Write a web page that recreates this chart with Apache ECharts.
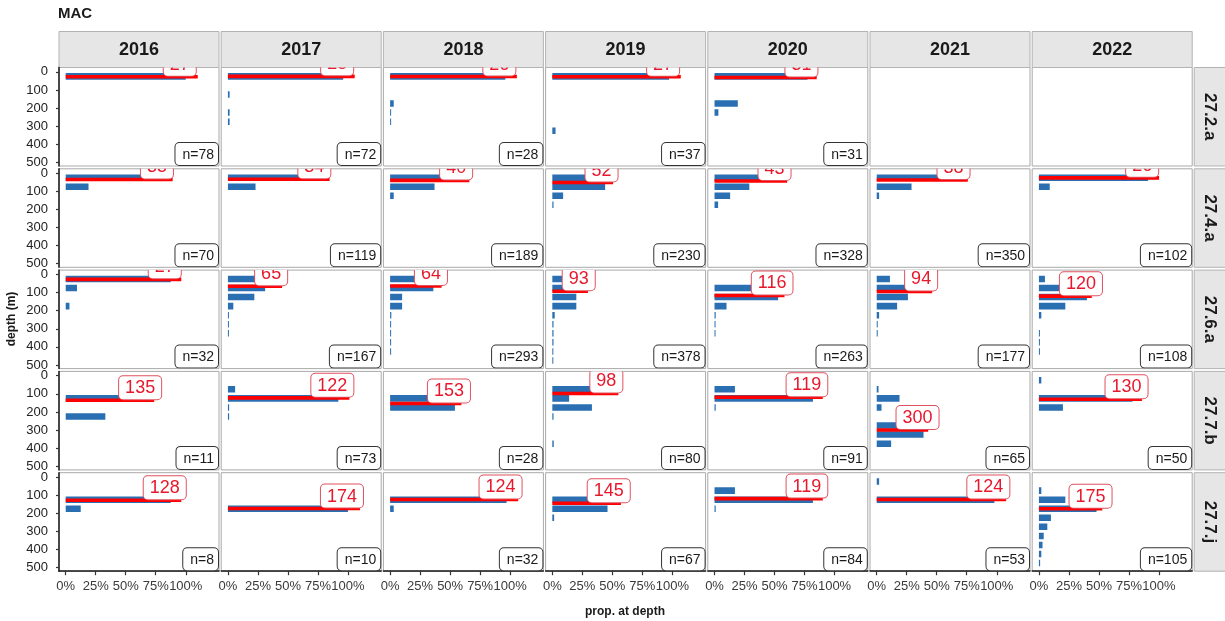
<!DOCTYPE html>
<html>
<head>
<meta charset="utf-8">
<script src="https://cdn.jsdelivr.net/npm/echarts@6/dist/echarts.min.js"></script>
<style>
  html, body { margin: 0; padding: 0; background: #fff; }
  #chart { width: 1225px; height: 621px; }
</style>
</head>
<body>
<div id="chart"></div>
<script>
// facets
const years = ['2016', '2017', '2018', '2019', '2020', '2021', '2022'];
const areas = ['27.2.a', '27.4.a', '27.6.a', '27.7.b', '27.7.j'];

// depth bins (m), 50 m wide, start of each bin
const binStarts = [0, 50, 100, 150, 200, 250, 300, 350, 400, 450];
const binWidth = 50;

const yTicks = [0, 100, 200, 300, 400, 500];
const xTicks = [0, 0.25, 0.5, 0.75, 1];

// proportion of hauls per depth bin, one row per year (null = no data)
const prop_27_2_a = [
  [1.00, 0, 0, 0, 0, 0, 0, 0, 0, 0],
  [0.96, 0, 0.014, 0, 0.014, 0.014, 0, 0, 0, 0],
  [0.96, 0, 0, 0.03, 0.005, 0.005, 0, 0, 0, 0],
  [0.973, 0, 0, 0, 0, 0, 0.027, 0, 0, 0],
  [0.774, 0, 0, 0.194, 0.032, 0, 0, 0, 0, 0],
  null,
  null
];
const prop_27_4_a = [
  [0.81, 0.19, 0, 0, 0, 0, 0, 0, 0, 0],
  [0.77, 0.23, 0, 0, 0, 0, 0, 0, 0, 0],
  [0.60, 0.37, 0.03, 0, 0, 0, 0, 0, 0, 0],
  [0.46, 0.44, 0.09, 0.01, 0, 0, 0, 0, 0, 0],
  [0.55, 0.29, 0.13, 0.03, 0, 0, 0, 0, 0, 0],
  [0.69, 0.29, 0.02, 0, 0, 0, 0, 0, 0, 0],
  [0.91, 0.09, 0, 0, 0, 0, 0, 0, 0, 0]
];
const prop_27_6_a = [
  [0.875, 0.094, 0, 0.031, 0, 0, 0, 0, 0, 0],
  [0.41, 0.31, 0.22, 0.045, 0.005, 0.005, 0.005, 0, 0, 0],
  [0.39, 0.36, 0.10, 0.10, 0.01, 0.005, 0.005, 0.005, 0.005, 0],
  [0.27, 0.22, 0.20, 0.20, 0.02, 0.01, 0.01, 0.01, 0.005, 0.005],
  [0, 0.32, 0.53, 0.10, 0.01, 0.005, 0.005, 0, 0, 0],
  [0.11, 0.42, 0.26, 0.17, 0.02, 0.005, 0.005, 0, 0, 0],
  [0.05, 0.28, 0.40, 0.22, 0.02, 0, 0.005, 0.005, 0.005, 0]
];
const prop_27_7_b = [
  [0, 0, 0.67, 0, 0.33, 0, 0, 0, 0, 0],
  [0, 0.06, 0.92, 0.01, 0.01, 0, 0, 0, 0, 0],
  [0, 0, 0.46, 0.54, 0, 0, 0, 0, 0, 0],
  [0, 0.50, 0.14, 0.33, 0.01, 0, 0, 0.012, 0, 0],
  [0, 0.17, 0.82, 0.01, 0, 0, 0, 0, 0, 0],
  [0, 0.015, 0.19, 0.04, 0, 0.25, 0.39, 0.12, 0, 0],
  [0.02, 0, 0.78, 0.20, 0, 0, 0, 0, 0, 0]
];
const prop_27_7_j = [
  [0, 0, 0.875, 0.125, 0, 0, 0, 0, 0, 0],
  [0, 0, 0, 1.00, 0, 0, 0, 0, 0, 0],
  [0, 0, 0.97, 0.03, 0, 0, 0, 0, 0, 0],
  [0, 0, 0.52, 0.46, 0.015, 0, 0, 0, 0, 0],
  [0, 0.17, 0.82, 0.01, 0, 0, 0, 0, 0, 0],
  [0.02, 0, 0.98, 0, 0, 0, 0, 0, 0, 0],
  [0, 0.02, 0.22, 0.48, 0.10, 0.07, 0.04, 0.03, 0.02, 0.01]
];
const propByArea = [prop_27_2_a, prop_27_4_a, prop_27_6_a, prop_27_7_b, prop_27_7_j];

// mean depth (m) per area x year
const meanDepth = [
  [27, 25, 26, 27, 31, null, null],
  [35, 34, 40, 52, 43, 38, 26],
  [27, 65, 64, 93, 116, 94, 120],
  [135, 122, 153, 98, 119, 300, 130],
  [128, 174, 124, 145, 119, 124, 175]
];
// number of hauls
const nHauls = [
  [78, 72, 28, 37, 31, null, null],
  [70, 119, 189, 230, 328, 350, 102],
  [32, 167, 293, 378, 263, 177, 108],
  [11, 73, 28, 80, 91, 65, 50],
  [8, 10, 32, 67, 84, 53, 105]
];

const FONT = '"Liberation Sans", Arial, Helvetica, sans-serif';
const BLUE = '#2a6fb2';
const RED = '#ff0000';
const LABEL_RED = '#e8182c';

// facet layout
const panelLeft = 59, panelTop = 67.5;
const panelW = 160, panelH = 98.5;
const stepX = 162.2, stepY = 101.3;
const xMin = -0.056, xMax = 1.277;
const yMin = -24, yMax = 520;

const grids = [], xAxes = [], yAxes = [], series = [], graphics = [];

areas.forEach((area, r) => {
  years.forEach((year, c) => {
    const gi = grids.length;
    const left = panelLeft + c * stepX;
    const top = panelTop + r * stepY;
    const bottomRow = r === areas.length - 1;
    const firstCol = c === 0;

    grids.push({
      left: left, top: top, width: panelW, height: panelH,
      show: true, backgroundColor: '#fff', borderColor: '#a9a9a9', borderWidth: 1
    });
    xAxes.push({
      gridIndex: gi, type: 'value', min: xMin, max: xMax,
      splitLine: { show: false },
      axisLine: { show: bottomRow, onZero: false, lineStyle: { color: '#1a1a1a', width: 1.5 } },
      axisTick: { show: bottomRow, customValues: xTicks, length: 4, lineStyle: { color: '#333', width: 1.2 } },
      axisLabel: {
        show: bottomRow, customValues: xTicks, margin: 9,
        formatter: v => Math.round(v * 100) + '%',
        color: '#3a3a3a', fontSize: 13, fontFamily: FONT
      }
    });
    yAxes.push({
      gridIndex: gi, type: 'value', inverse: true, min: yMin, max: yMax,
      splitLine: { show: false },
      axisLine: { show: firstCol, onZero: false, lineStyle: { color: '#1a1a1a', width: 1.5 } },
      axisTick: { show: firstCol, customValues: yTicks, length: 3, lineStyle: { color: '#333', width: 1.2 } },
      axisLabel: {
        show: firstCol, customValues: yTicks, margin: 11,
        color: '#222', fontSize: 13, fontFamily: FONT
      }
    });

    const vals = propByArea[r][c];
    if (!vals) return;
    const maxProp = Math.max(...vals);
    const mean = meanDepth[r][c];

    // bars
    series.push({
      type: 'custom', xAxisIndex: gi, yAxisIndex: gi, clip: true, silent: true,
      data: binStarts.map((d, k) => [vals[k], d]).filter(p => p[0] > 0),
      renderItem: (params, api) => {
        const d = api.value(1);
        const p0 = api.coord([0, d + binWidth * 0.14]);
        const p1 = api.coord([api.value(0), d + binWidth * 0.86]);
        return {
          type: 'rect',
          shape: { x: p0[0], y: p0[1], width: Math.max(p1[0] - p0[0], 1), height: p1[1] - p0[1] },
          style: { fill: BLUE }
        };
      }
    });
    // mean depth line
    series.push({
      type: 'custom', xAxisIndex: gi, yAxisIndex: gi, clip: true, silent: true,
      data: [[maxProp * 1.1, mean]],
      renderItem: (params, api) => {
        const p0 = api.coord([0, api.value(1)]);
        const p1 = api.coord([api.value(0), api.value(1)]);
        return {
          type: 'rect',
          shape: { x: p0[0], y: p0[1] - 1.8, width: p1[0] - p0[0], height: 3.6 },
          style: { fill: RED }
        };
      }
    });
    // mean depth label
    series.push({
      type: 'custom', xAxisIndex: gi, yAxisIndex: gi, clip: true, silent: true,
      data: [[maxProp - 0.05, mean]],
      renderItem: (params, api) => {
        const p = api.coord([api.value(0), api.value(1)]);
        return {
          type: 'text', x: p[0], y: p[1] - 1,
          style: {
            text: String(mean), fill: LABEL_RED, font: '18px ' + FONT,
            align: 'center', verticalAlign: 'bottom', lineHeight: 18,
            backgroundColor: '#fff', borderColor: '#e0505f', borderWidth: 1,
            borderRadius: 4, padding: [3, 6, 2, 6]
          }
        };
      }
    });
    // n label
    series.push({
      type: 'custom', xAxisIndex: gi, yAxisIndex: gi, clip: true, silent: true,
      data: [[xMax, yMax]],
      renderItem: (params, api) => {
        const p = api.coord([api.value(0), api.value(1)]);
        return {
          type: 'text', x: p[0] - 1, y: p[1] - 1,
          style: {
            text: 'n=' + nHauls[r][c], fill: '#1a1a1a', font: '14px ' + FONT,
            align: 'right', verticalAlign: 'bottom', lineHeight: 16,
            backgroundColor: '#fff', borderColor: '#333', borderWidth: 1,
            borderRadius: 4, padding: [4, 4, 2, 7]
          }
        };
      }
    });
  });
});

// strips
years.forEach((year, c) => {
  const left = panelLeft + c * stepX;
  graphics.push({
    type: 'rect', shape: { x: left, y: 31.5, width: panelW, height: 36 },
    style: { fill: '#e6e6e6', stroke: '#b3b3b3', lineWidth: 1 }
  });
  graphics.push({
    type: 'text', x: left + panelW / 2, y: 50,
    style: { text: year, font: 'bold 18px ' + FONT, fill: '#1a1a1a', align: 'center', verticalAlign: 'middle' }
  });
});
areas.forEach((area, r) => {
  const top = panelTop + r * stepY;
  const x0 = panelLeft + 6 * stepX + panelW + 2;
  graphics.push({
    type: 'rect', shape: { x: x0, y: top, width: 34, height: panelH },
    style: { fill: '#e6e6e6', stroke: '#b3b3b3', lineWidth: 1 }
  });
  graphics.push({
    type: 'text', x: x0 + 15, y: top + panelH / 2, rotation: -Math.PI / 2,
    style: { text: area, font: 'bold 17px ' + FONT, fill: '#1a1a1a', align: 'center', verticalAlign: 'middle' }
  });
});
// titles
graphics.push({
  type: 'text', x: 58, y: 14,
  style: { text: 'MAC', font: 'bold 15px ' + FONT, fill: '#1a1a1a', align: 'left', verticalAlign: 'middle' }
});
graphics.push({
  type: 'text', x: 12, y: 319, rotation: Math.PI / 2,
  style: { text: 'depth (m)', font: 'bold 12px ' + FONT, fill: '#1a1a1a', align: 'center', verticalAlign: 'middle' }
});
graphics.push({
  type: 'text', x: 625, y: 612,
  style: { text: 'prop. at depth', font: 'bold 12px ' + FONT, fill: '#1a1a1a', align: 'center', verticalAlign: 'middle' }
});

const chart = echarts.init(document.getElementById('chart'), null, { renderer: 'canvas' });
chart.setOption({
  animation: false,
  backgroundColor: '#fff',
  grid: grids,
  xAxis: xAxes,
  yAxis: yAxes,
  series: series,
  graphic: { elements: graphics }
});
</script>
</body>
</html>
